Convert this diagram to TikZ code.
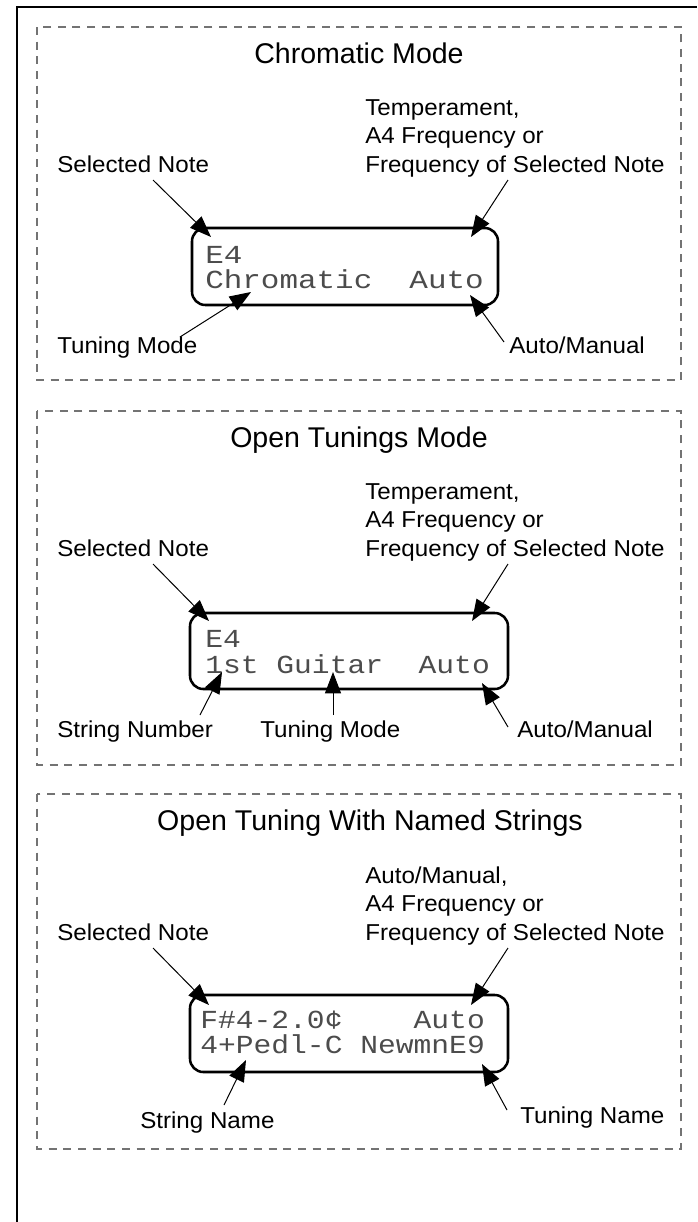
\documentclass[tikz,border=0pt]{standalone}
\usepackage{fontspec}
\setmainfont{Liberation Sans}
\newfontfamily\labfont{Liberation Sans}[FakeStretch=1.05]
\newfontfamily\lcdfontA{Liberation Mono}[FakeStretch=1.19]
\newfontfamily\lcdfontB{Liberation Mono}[FakeStretch=1.14]
\usetikzlibrary{arrows.meta}
\begin{document}
\begin{tikzpicture}[x=0.75pt,y=-0.75pt,
  lab/.style={font=\labfont\fontsize{17.25}{21}\selectfont, inner sep=0pt, anchor=base west},
  ttl/.style={font=\fontsize{21.4}{26}\selectfont, inner sep=0pt, anchor=base},
  lcd/.style={font=\lcdfontA\fontsize{19.5}{24}\selectfont, text=black!70, inner sep=0pt, anchor=base west, text height=12pt, text depth=0pt},
  lcdb/.style={lcd, font=\lcdfontB\fontsize{19.5}{24}\selectfont},
  panel/.style={draw=black!55, line width=0.9pt, dash pattern=on 6pt off 5pt},
  lcdbox/.style={draw=black, line width=1.9pt, rounded corners=10pt},
  arr/.style={line width=0.75pt, -{Triangle[length=16pt,width=12pt]}}
]
\useasboundingbox (0,0) rectangle (697,1222);
\fill[white] (0,0) rectangle (697,1222);
\draw[line width=1.5pt] (17,1222) -- (17,7) -- (697,7);

% panels
\draw[panel] (37,27) rectangle (681,380);
\draw[panel] (37,411) rectangle (681,765);
\draw[panel] (37,794) rectangle (681,1149);

% ---------- Panel 1 ----------
\node[ttl] (t1) at (359,63) {Chromatic Mode};
\node[lab] (p1r1) at (365,115) {Temperament,};
\node[lab] (p1r2) at (365,143) {A4 Frequency or};
\node[lab] (p1r3) at (365,172) {Frequency of Selected Note};
\node[lab] (p1sn) at (57,172) {Selected Note};
\node[lab] (p1tm) at (57,353) {Tuning Mode};
\node[lab] (p1am) at (509,353) {Auto/Manual};
\draw[lcdbox] (192,228) rectangle (498,305);
\node[lcd] (p1l1) at (205,263) {E4};
\node[lcd] (p1l2) at (205,288) {Chromatic\ \ Auto};
\coordinate (a1s) at (153,180); \coordinate (a1e) at (211,237);
\coordinate (a2s) at (508,180); \coordinate (a2e) at (471,237);
\coordinate (a3s) at (180,337); \coordinate (a3e) at (251,292);
\coordinate (a4s) at (504,342); \coordinate (a4e) at (470,295);
\draw[arr] (a1s) -- (a1e);
\draw[arr] (a2s) -- (a2e);
\draw[arr] (a3s) -- (a3e);
\draw[arr] (a4s) -- (a4e);

% ---------- Panel 2 ----------
\node[ttl] (t2) at (359,447) {Open Tunings Mode};
\node[lab] (p2r1) at (365,499) {Temperament,};
\node[lab] (p2r2) at (365,527) {A4 Frequency or};
\node[lab] (p2r3) at (365,556) {Frequency of Selected Note};
\node[lab] (p2sn) at (57,556) {Selected Note};
\node[lab] (p2num) at (57,737) {String Number};
\node[lab] (p2tm) at (260,737) {Tuning Mode};
\node[lab] (p2am) at (517,737) {Auto/Manual};
\draw[lcdbox] (190,613) rectangle (508,689);
\node[lcdb] (p2l1) at (205,647) {E4};
\node[lcdb] (p2l2) at (205,673) {1st Guitar\ \ Auto};
\coordinate (b1s) at (153,564); \coordinate (b1e) at (209,621);
\coordinate (b2s) at (508,564); \coordinate (b2e) at (472,621);
\coordinate (b3s) at (200,715); \coordinate (b3e) at (222,672);
\coordinate (b4s) at (333,715); \coordinate (b4e) at (333,672);
\coordinate (b5s) at (508,727); \coordinate (b5e) at (482,683);
\draw[arr] (b1s) -- (b1e);
\draw[arr] (b2s) -- (b2e);
\draw[arr] (b3s) -- (b3e);
\draw[arr] (b4s) -- (b4e);
\draw[arr] (b5s) -- (b5e);

% ---------- Panel 3 ----------
\node[ttl] (t3) at (370,830) {Open Tuning With Named Strings};
\node[lab] (p3r1) at (365,883) {Auto/Manual,};
\node[lab] (p3r2) at (365,911) {A4 Frequency or};
\node[lab] (p3r3) at (365,940) {Frequency of Selected Note};
\node[lab] (p3sn) at (57,940) {Selected Note};
\node[lab] (p3sname) at (140,1128) {String Name};
\node[lab] (p3tname) at (520,1123) {Tuning Name};
\draw[lcdbox] (190,995) rectangle (508,1072);
\node[lcdb] (p3l1) at (200,1028) {F\#4-2.0¢\ \ \ \ Auto};
\node[lcdb] (p3l2) at (200,1053) {4+Pedl-C NewmnE9};
\coordinate (c1s) at (153,948); \coordinate (c1e) at (209,1005);
\coordinate (c2s) at (508,948); \coordinate (c2e) at (471,1005);
\coordinate (c3s) at (224,1105); \coordinate (c3e) at (246,1060);
\coordinate (c4s) at (507,1110); \coordinate (c4e) at (482,1064);
\draw[arr] (c1s) -- (c1e);
\draw[arr] (c2s) -- (c2e);
\draw[arr] (c3s) -- (c3e);
\draw[arr] (c4s) -- (c4e);
\end{tikzpicture}
\end{document}
